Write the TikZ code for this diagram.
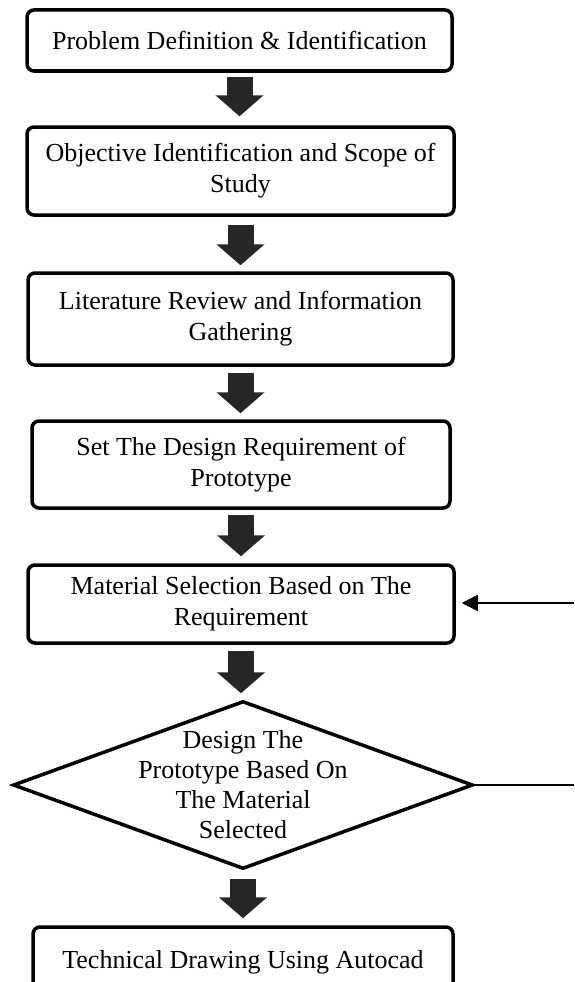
\documentclass[tikz,border=0pt]{standalone}
\usepackage{fontspec}
\setmainfont{Liberation Serif}
\usetikzlibrary{arrows.meta,shapes.geometric,calc}
\begin{document}
\begin{tikzpicture}[x=1pt,y=-1pt,
  font=\fontsize{26}{31}\selectfont,
  stepbox/.style={draw, line width=3.5pt, rounded corners=7pt, align=center, inner sep=0pt},
  blk/.style={draw=black!85, line width=26pt, -{Triangle[width=47pt,length=21pt]}},
  fb/.style={draw, line width=1.6pt},
]
\useasboundingbox (0,0) rectangle (574,982);
\clip (0,0) rectangle (574,982);
\fill[white] (0,0) rectangle (574,982);

\node[stepbox, minimum width=425pt, minimum height=61pt] (b1) at (239.5,40.5) {Problem Definition \& Identification};
\node[stepbox, minimum width=427pt, minimum height=88pt] (b2) at (240.5,171) {Objective Identification and Scope of\\Study};
\node[stepbox, minimum width=425pt, minimum height=92pt] (b3) at (240.5,319) {Literature Review and Information\\Gathering};
\node[stepbox, minimum width=418pt, minimum height=87pt] (b4) at (241,464.5) {Set The Design Requirement of\\Prototype};
\node[stepbox, minimum width=426pt, minimum height=78pt] (b5) at (241,604) {Material Selection Based on The\\Requirement};
\node[draw, diamond, line width=3.5pt, minimum width=460pt, minimum height=168pt, inner sep=0pt] (d) at (243,785) {};
\node[align=center, inner sep=0pt, font=\fontsize{26}{30}\selectfont] (dt) at (d.center) {Design The\\Prototype Based On\\The Material\\Selected};
\node[stepbox, minimum width=420pt, minimum height=70pt] (b7) at (243,962) {Technical Drawing Using Autocad};

\draw[blk, shorten <=4pt, shorten >=9pt] (b1.south) -- (b1.south |- b2.north);
\draw[blk, shorten <=8pt, shorten >=6pt] (b2.south) -- (b2.south |- b3.north);
\draw[blk, shorten <=6pt, shorten >=6pt] (b3.south) -- (b3.south |- b4.north);
\draw[blk, shorten <=5pt, shorten >=7pt] (b4.south) -- (b4.south |- b5.north);
\draw[blk, shorten <=6pt, shorten >=6pt] (b5.south) -- (b5.south |- d.north);
\draw[blk, shorten <=8pt, shorten >=7pt] (d.south) -- (d.south |- b7.north);

\coordinate (fbin) at (574,603);
\coordinate (fbout) at (574,785);
\draw[fb, -{Triangle[width=16pt,length=16pt]}, shorten >=6pt] (fbin) -- (fbin -| b5.east);
\draw[fb] (d.east) -- (fbout);
\end{tikzpicture}
\end{document}
